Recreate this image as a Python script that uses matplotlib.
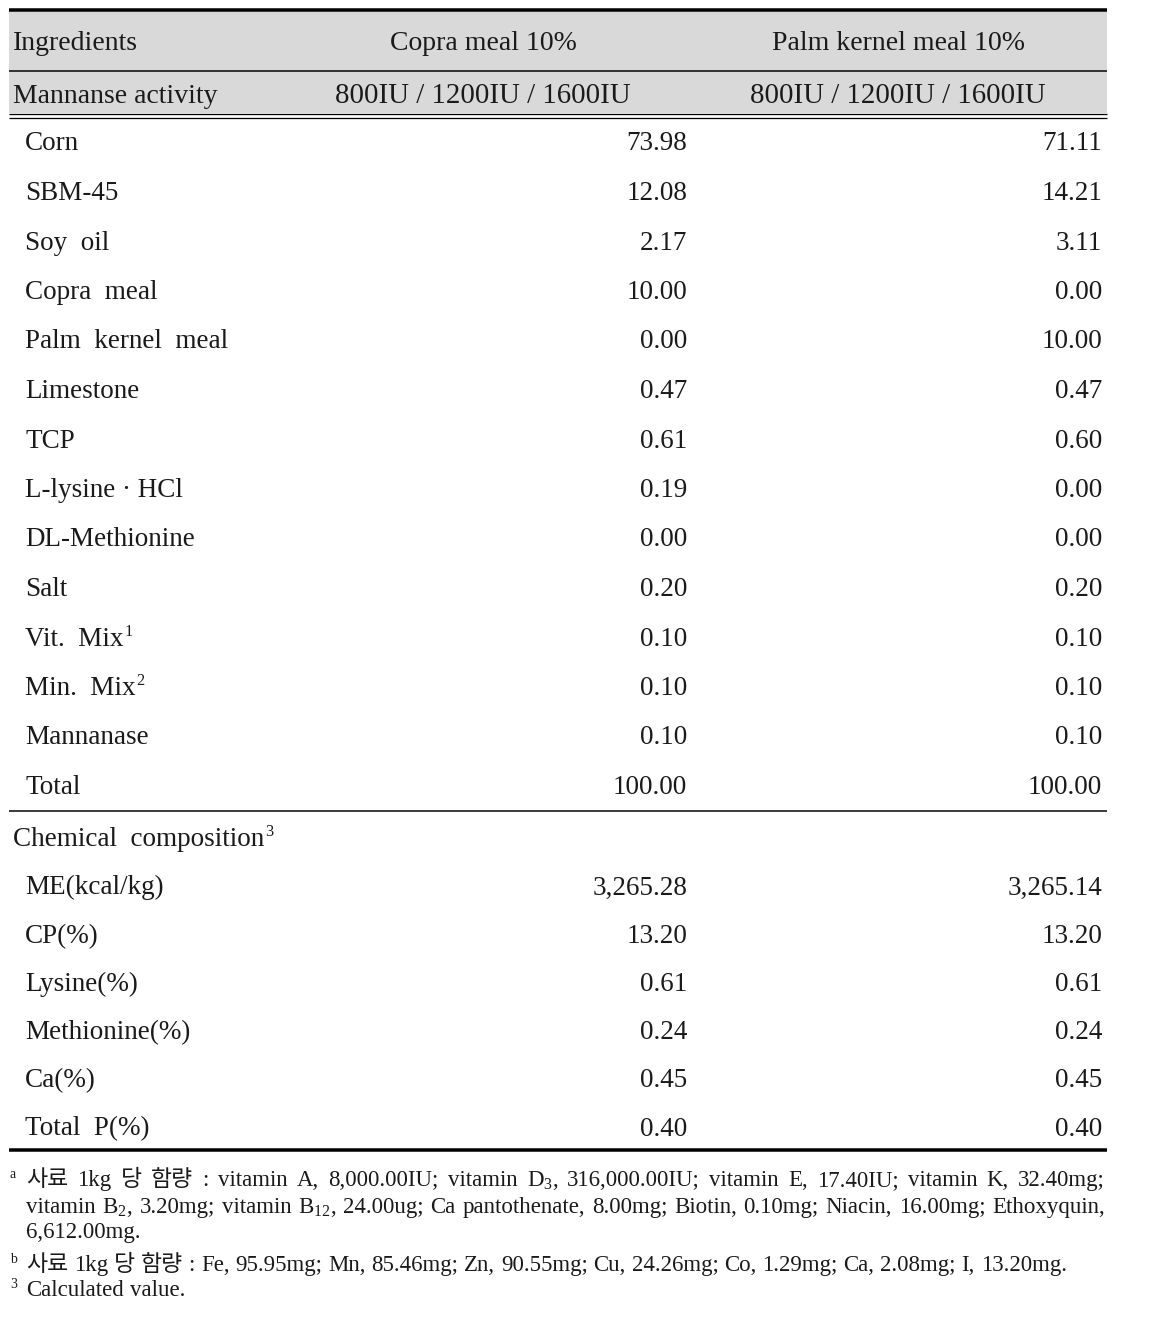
import matplotlib
matplotlib.use('Agg')
import matplotlib.pyplot as plt
from matplotlib.patches import Rectangle

# ---------------- data ----------------
col_headers = ["Copra meal 10%", "Palm kernel meal 10%"]
activity_label = "Mannanse activity"
activity_levels = ["800IU / 1200IU / 1600IU", "800IU / 1200IU / 1600IU"]

ingredients = ["Corn", "SBM-45", "Soy  oil", "Copra  meal", "Palm  kernel  meal",
               "Limestone", "TCP", "L-lysine · HCl", "DL-Methionine", "Salt",
               "Vit.  Mix", "Min.  Mix", "Mannanase", "Total"]
ingredient_notes = {"Vit.  Mix": "1", "Min.  Mix": "2"}
copra_pct = [73.98, 12.08, 2.17, 10.00, 0.00, 0.47, 0.61, 0.19, 0.00, 0.20,
             0.10, 0.10, 0.10, 100.00]
palm_pct = [71.11, 14.21, 3.11, 0.00, 10.00, 0.47, 0.60, 0.00, 0.00, 0.20,
            0.10, 0.10, 0.10, 100.00]

chem_title = "Chemical  composition"
chem_note = "3"
chem_items = ["ME(kcal/kg)", "CP(%)", "Lysine(%)", "Methionine(%)", "Ca(%)", "Total  P(%)"]
chem_copra = [3265.28, 13.20, 0.61, 0.24, 0.45, 0.40]
chem_palm = [3265.14, 13.20, 0.61, 0.24, 0.45, 0.40]

foot_a1 = ["사료", "1kg", "당", "함량", ":", "vitamin", "A,", "8,000.00IU;", "vitamin",
           "D$_3$,", "316,000.00IU;", "vitamin", "E,", "17.40IU;", "vitamin", "K,", "32.40mg;"]
foot_a2 = ["vitamin", "B$_2$,", "3.20mg;", "vitamin", "B$_{12}$,", "24.00ug;", "Ca", "pantothenate,",
           "8.00mg;", "Biotin,", "0.10mg;", "Niacin,", "16.00mg;", "Ethoxyquin,"]
foot_a3 = ["6,612.00mg."]
foot_b = ["사료", "1kg", "당", "함량", ":", "Fe,", "95.95mg;", "Mn,", "85.46mg;", "Zn,", "90.55mg;",
          "Cu,", "24.26mg;", "Co,", "1.29mg;", "Ca,", "2.08mg;", "I,", "13.20mg."]
foot_3 = ["Calculated", "value."]

# ---------------- style ----------------
SERIF = ['Liberation Serif', 'Noto Sans CJK KR', 'DejaVu Serif']
plt.rcParams['font.family'] = SERIF
plt.rcParams['mathtext.fontset'] = 'custom'
plt.rcParams['mathtext.rm'] = 'Liberation Serif'
plt.rcParams['mathtext.it'] = 'Liberation Serif:italic'
plt.rcParams['mathtext.bf'] = 'Liberation Serif:bold'

W, H = 1149, 1322
fig = plt.figure(figsize=(W / 100, H / 100), dpi=100)
ax = fig.add_axes([0, 0, 1, 1])
ax.set_xlim(0, W)
ax.set_ylim(H, 0)
ax.axis('off')
renderer = fig.canvas.get_renderer()

TXT = '#1a1a1a'
LX0, LX1 = 9, 1107
PT = 0.72  # px -> pt


def hline(y, lw_px):
    ax.plot([LX0, LX1], [y, y], color='black', lw=lw_px * PT, solid_capstyle='butt')


# header background
ax.add_patch(Rectangle((LX0, 11), LX1 - LX0, 102, facecolor='#d9d9d9', edgecolor='none'))
hline(9.5, 3.5)
hline(71, 1.5)
hline(113.5, 1.3)
hline(117.5, 1.3)
hline(811, 1.5)
hline(1150, 3.5)

BODY = 19.5
HEAD = 20
col_centers = [483, 898]
col_right = [687, 1102]

# header rows
ax.text(13, 50, "Ingredients", fontsize=HEAD, ha='left', va='baseline', color=TXT)
for cx, s in zip(col_centers, col_headers):
    ax.text(cx, 50, s, fontsize=HEAD, ha='center', va='baseline', color=TXT)
ax.text(13, 103, activity_label, fontsize=HEAD, ha='left', va='baseline', color=TXT)
for cx, s in zip(col_centers, activity_levels):
    ax.text(cx, 103, s, fontsize=20.8, ha='center', va='baseline', color=TXT)


def with_sup(x, y, s, sup, size):
    t = ax.text(x, y, s, fontsize=size, ha='left', va='baseline', color=TXT)
    if sup:
        bb = t.get_window_extent(renderer=renderer)
        ax.text(x + bb.width + 1, y - 10, sup, fontsize=size * 0.6, ha='left',
                va='baseline', color=TXT)


# ingredient rows
y0, step = 142, 49.5
for i, name in enumerate(ingredients):
    yb = y0 + i * step + 8.5
    with_sup(25, yb, name, ingredient_notes.get(name), BODY)
    ax.text(col_right[0], yb, f"{copra_pct[i]:,.2f}", fontsize=BODY, ha='right', va='baseline', color=TXT)
    ax.text(col_right[1], yb, f"{palm_pct[i]:,.2f}", fontsize=BODY, ha='right', va='baseline', color=TXT)

# chemical composition
with_sup(13, 846, chem_title, chem_note, BODY)
y0, step = 886, 48.2
for i, name in enumerate(chem_items):
    yb = y0 + i * step + 8.5
    ax.text(25, yb, name, fontsize=BODY, ha='left', va='baseline', color=TXT)
    ax.text(col_right[0], yb, f"{chem_copra[i]:,.2f}", fontsize=BODY, ha='right', va='baseline', color=TXT)
    ax.text(col_right[1], yb, f"{chem_palm[i]:,.2f}", fontsize=BODY, ha='right', va='baseline', color=TXT)

# footnotes
FOOT = 16.5


def words_line(x, y, words, justify_to=None):
    texts = []
    widths = []
    for w in words:
        t = ax.text(0, y, w, fontsize=FOOT, ha='left', va='baseline', color=TXT)
        widths.append(t.get_window_extent(renderer=renderer).width)
        texts.append(t)
    t1 = ax.text(0, 0, "a a", fontsize=FOOT)
    t2 = ax.text(0, 0, "aa", fontsize=FOOT)
    g = t1.get_window_extent(renderer=renderer).width - t2.get_window_extent(renderer=renderer).width
    t1.remove()
    t2.remove()
    if justify_to is not None and len(words) > 1:
        g = (justify_to - x - sum(widths)) / (len(words) - 1)
    cx = x
    for t, w in zip(texts, widths):
        t.set_x(cx)
        cx += w + g


def sup(x, y, s):
    ax.text(x, y - 8, s, fontsize=FOOT * 0.6, ha='left', va='baseline', color=TXT)


FX = 26
sup(10, 1186, "a")
words_line(FX, 1186, foot_a1, justify_to=1105)
words_line(FX, 1213, foot_a2, justify_to=1105)
words_line(FX, 1238, foot_a3)
sup(10, 1271, "b")
words_line(FX, 1271, foot_b)
sup(10, 1296, "3")
words_line(FX, 1296, foot_3)

fig.savefig('out.png', dpi=100, facecolor='white')
